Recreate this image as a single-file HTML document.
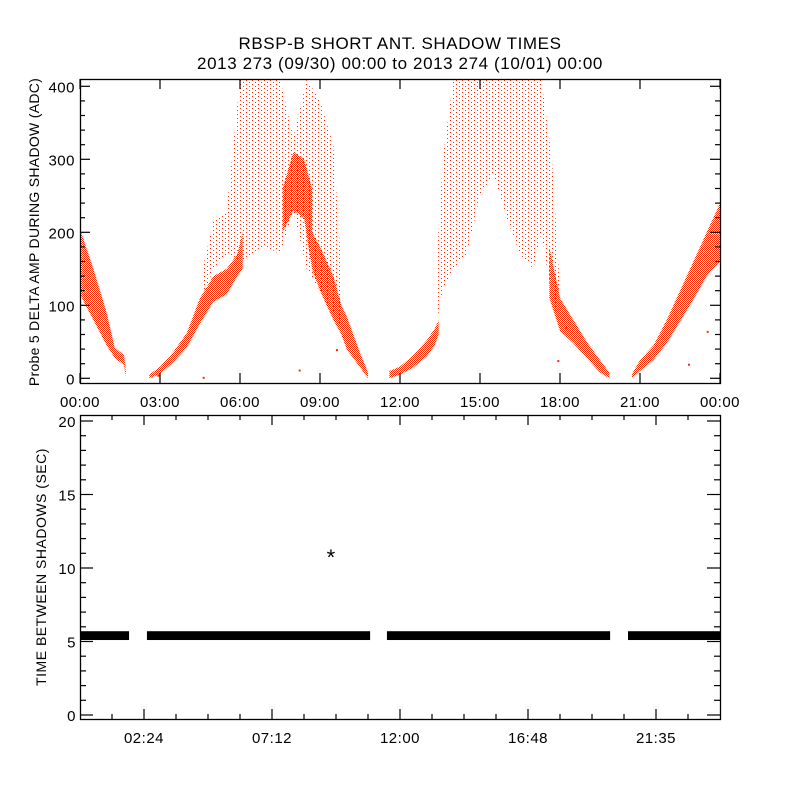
<!DOCTYPE html>
<html><head><meta charset="utf-8"><style>
html,body{margin:0;padding:0;background:#fff}
svg{display:block}
text{font-family:"Liberation Sans",sans-serif;fill:#000}
</style></head><body>
<svg id="chart" width="800" height="800" viewBox="0 0 800 800">
<defs>
<pattern id="dense" width="2" height="2" patternUnits="userSpaceOnUse"><rect x="0" y="0" width="1" height="1" fill="#ff2a00"/><rect x="1" y="1" width="1" height="1" fill="#ff2a00"/></pattern>
<pattern id="sparse" width="6" height="4" patternUnits="userSpaceOnUse"><rect x="0" y="0" width="1" height="1" fill="#ff2a00"/><rect x="3" y="2" width="1" height="1" fill="#ff2a00"/></pattern>
</defs>
<text x="400" y="49" font-size="17" letter-spacing="0.6" text-anchor="middle">RBSP-B SHORT ANT. SHADOW TIMES</text>
<text x="400" y="69" font-size="17" letter-spacing="0.6" text-anchor="middle">2013 273 (09/30) 00:00 to 2013 274 (10/01) 00:00</text>
<g id="gtop"></g>
<g id="gbot"></g>
<text transform="translate(39,232) rotate(-90)" font-size="14" letter-spacing="0.3" text-anchor="middle">Probe 5 DELTA AMP DURING SHADOW (ADC)</text>
<text transform="translate(46,567) rotate(-90)" font-size="14" letter-spacing="0.5" text-anchor="middle">TIME BETWEEN SHADOWS (SEC)</text>
</svg>
<script>
// ---- top panel data: envelopes of scatter (hours, low ADC, high ADC)
const denseSegments = [
  {h:[0,0.5,1.0,1.3,1.65,1.72], lo:[115,80,45,28,18,2], hi:[205,150,90,42,32,10]},
  {h:[2.6,3,3.5,4,4.5,5,5.5,5.9,6.1], lo:[0,6,22,42,75,105,115,140,150], hi:[5,16,36,62,110,140,150,170,200]},
  {h:[7.6,8.0,8.4,8.7], lo:[200,230,220,150], hi:[260,310,300,260]},
  {h:[8.7,9.0,9.5,9.8,10,10.5,10.8], lo:[150,120,80,60,40,15,0], hi:[200,180,140,100,85,35,8]},
  {h:[11.6,12,12.5,13,13.3,13.45], lo:[0,5,15,30,45,60], hi:[10,16,32,52,68,80]},
  {h:[17.6,18,18.5,19,19.5,19.85], lo:[110,65,48,28,8,0], hi:[180,110,80,50,25,8]},
  {h:[20.7,21,21.5,22,22.5,23,23.5,24], lo:[0,10,25,48,78,108,140,160], hi:[6,25,45,80,120,160,200,240]}
];
const sparseSegments = [
  {h:[4.6,5,5.5,6,6.5,7,7.5,8,8.5,9,9.5,9.8], lo:[110,150,170,160,170,180,170,230,150,120,90,70], hi:[150,215,230,410,410,410,410,330,410,380,320,150]},
  {h:[13.35,13.6,14,14.5,15,15.5,16,16.5,17,17.3,17.7,18], lo:[70,120,150,170,250,280,220,170,150,200,110,70], hi:[140,300,410,410,410,410,410,410,410,410,300,120]}
];
const strayPoints = {h:[2.9,4.6,8.2,9.6,17.9,18.2,22.8,23.5], v:[5,2,12,40,25,70,20,65]};
// ---- bottom panel data
const gapSegStart = [0,2.51,11.51,20.55];
const gapSegEnd = [1.84,10.88,19.88,24];
const gapLow = [5.1,5.1,5.1,5.1];
const gapHigh = [5.7,5.7,5.7,5.7];
const outlierHour = [9.41];
const outlierVal = [10.95];
const topXTickLabels = ["00:00","03:00","06:00","09:00","12:00","15:00","18:00","21:00","00:00"];
const topYTicks = [0,100,200,300,400];
const botXTickLabels = ["02:24","07:12","12:00","16:48","21:35"];
const botYTicks = [0,5,10,15,20];

const NS="http://www.w3.org/2000/svg";
function mk(tag,attrs,parent){const e=document.createElementNS(NS,tag);for(const k in attrs)e.setAttribute(k,attrs[k]);parent.appendChild(e);return e;}
const X0=80,X1=720;
const xs=h=>X0+(h/24)*(X1-X0);
const TP={top:79,bot:383}, ty=v=>378.3-(v)*0.73;
const BP={top:415,bot:719}, by=v=>715-v*14.7;
const gTop=document.getElementById('gtop'), gBot=document.getElementById('gbot');

function band(seg,fill,g,name){
  let pts=[];
  for(let i=0;i<seg.h.length;i++)pts.push(xs(seg.h[i])+","+Math.max(TP.top,ty(seg.hi[i])));
  for(let i=seg.h.length-1;i>=0;i--)pts.push(xs(seg.h[i])+","+Math.min(TP.bot,ty(seg.lo[i])));
  const p=mk('polygon',{points:pts.join(" "),fill:fill},g);
  
  
}
sparseSegments.forEach(s=>band(s,"url(#sparse)",gTop,"sparse-scatter-region"));
denseSegments.forEach(s=>band(s,"url(#dense)",gTop,"dense-scatter-region"));
strayPoints.h.forEach((h,i)=>{
  const r=mk('rect',{x:xs(h),y:ty(strayPoints.v[i]),width:2,height:2,fill:"#ff2a00"},gTop);
  
  
});

function frame(g,y0,y1,name){
  const r=mk('rect',{x:X0+0.5,y:y0+0.5,width:X1-X0,height:y1-y0,fill:"none",stroke:"#000","stroke-width":1.3},g);
  
  
}
function line(g,x1,y1,x2,y2){mk('line',{x1:x1,y1:y1,x2:x2,y2:y2,stroke:"#000","stroke-width":1.2},g);}
function label(g,x,y,t,anchor,name){
  const e=mk('text',{x:x,y:y,"font-size":15,"text-anchor":anchor,"letter-spacing":0.5},g);e.textContent=t;
  
  
}
// top axes
frame(gTop,TP.top,TP.bot,"top-plot-frame");
topXTickLabels.forEach((t,i)=>{const x=xs(i*3);line(gTop,x,TP.bot,x,TP.bot-10);line(gTop,x,TP.top,x,TP.top+10);label(gTop,x,407,t,"middle","top-x-tick-label");});
for(let v=0;v<=400;v+=20){const y=ty(v);const L=v%100===0?10:5;line(gTop,X0,y,X0+L,y);line(gTop,X1,y,X1-L,y);}
topYTicks.forEach(v=>label(gTop,75,ty(v)+6,String(v),"end","top-y-tick-label"));
// bottom
gapSegStart.forEach((s,i)=>{
  const r=mk('rect',{x:xs(s),y:by(gapHigh[i]),width:xs(gapSegEnd[i])-xs(s),height:by(gapLow[i])-by(gapHigh[i]),fill:"#000"},gBot);
  
  
});
outlierHour.forEach((h,i)=>{
  const t=mk('text',{x:xs(h),y:by(outlierVal[i])+11,"font-size":22,"text-anchor":"middle"},gBot);t.textContent="*";
  
  
});
frame(gBot,BP.top,BP.bot,"bottom-plot-frame");
for(let k=1;k<20;k++){const h=k*1.2,x=xs(h);const L=(k%4===2)?10:5;line(gBot,x,BP.bot,x,BP.bot-L);line(gBot,x,BP.top,x,BP.top+L);}
botXTickLabels.forEach((t,i)=>label(gBot,xs(2.4+i*4.8),743,t,"middle","bottom-x-tick-label"));
for(let v=0;v<=20;v++){const y=by(v);const L=v%5===0?13:6;line(gBot,X0,y,X0+L,y);line(gBot,X1,y,X1-L,y);}
botYTicks.forEach(v=>label(gBot,76,by(v)+6,String(v),"end","bottom-y-tick-label"));
</script>
</body></html>
